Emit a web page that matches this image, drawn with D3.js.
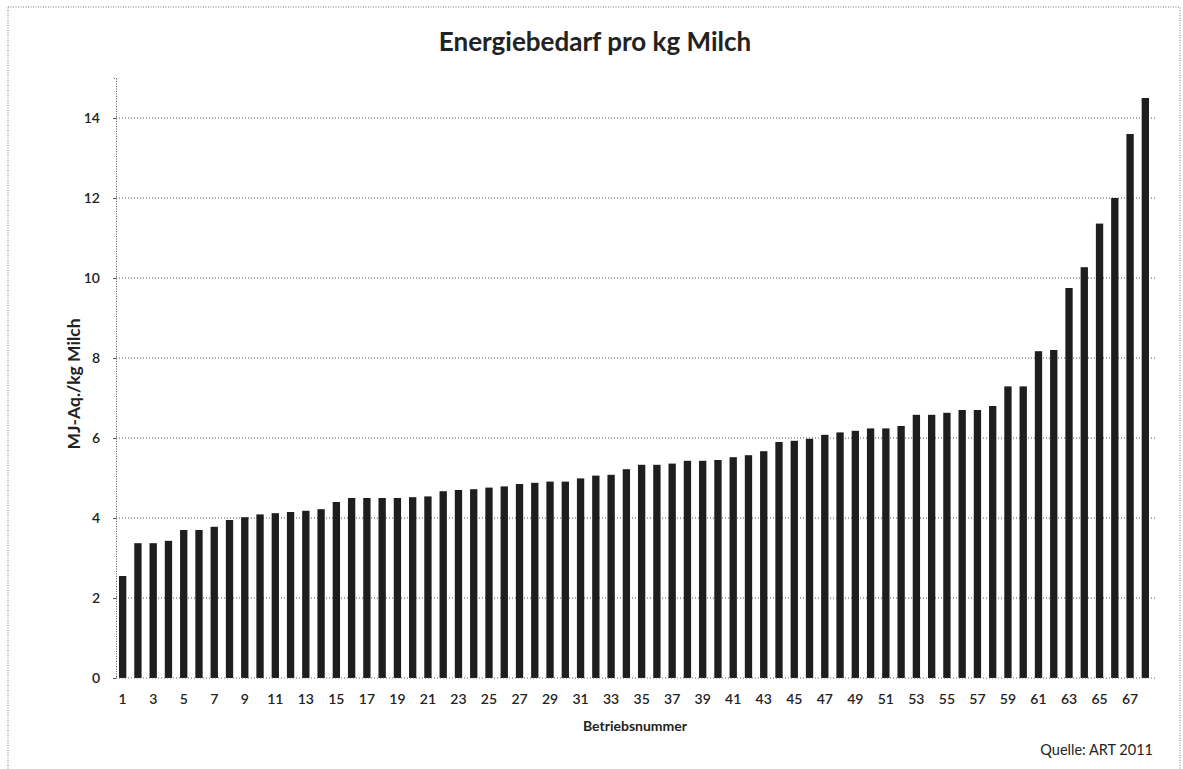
<html>
<head>
<meta charset="utf-8">
<title>Energiebedarf pro kg Milch</title>
<style>
  body { margin: 0; background: #fff; }
  svg text { font-family: Lato, "Open Sans", sans-serif; fill: #222; }
</style>
</head>
<body>
<div id="svghere"></div>
<script src="https://d3js.org/d3.v7.min.js"></script>
<script>
// Betriebsnummer 1..68
var betriebe = d3.range(1, 69);
// MJ-Aq. pro kg Milch
var energie = [
  2.55, 3.37, 3.37, 3.43, 3.70, 3.70, 3.78, 3.95, 4.02, 4.09,
  4.12, 4.15, 4.18, 4.22, 4.40, 4.50, 4.50, 4.50, 4.50, 4.52,
  4.54, 4.67, 4.70, 4.72, 4.76, 4.79, 4.85, 4.88, 4.91, 4.91,
  4.99, 5.06, 5.08, 5.22, 5.33, 5.33, 5.36, 5.43, 5.43, 5.45,
  5.52, 5.57, 5.67, 5.90, 5.93, 5.98, 6.08, 6.14, 6.18, 6.24,
  6.24, 6.30, 6.58, 6.58, 6.63, 6.70, 6.70, 6.80, 7.29, 7.29,
  8.17, 8.20, 9.75, 10.27, 11.36, 12.00, 13.60, 14.50
];
var yTicks = [0, 2, 4, 6, 8, 10, 12, 14];
var xLabels = betriebe.filter(function(d) { return d % 2 === 1; });

var svg = d3.select("#svghere")
    .append('svg')
    .attr('width', 1183)
    .attr('height', 769);

// outer dotted frame
svg.append('rect')
    .attr('x', 8).attr('y', 7)
    .attr('width', 1172).attr('height', 770)
    .attr('fill', 'none')
    .style('stroke', '#777')
    .style('stroke-width', 1)
    .style('stroke-dasharray', '1,1.5');

var plotLeft = 116, plotRight = 1157, plotTop = 78, plotBottom = 678;

var x = d3.scaleBand()
    .domain(betriebe)
    .range([119, 1149])
    .paddingInner(0.52)
    .paddingOuter(0);

var y = d3.scaleLinear()
    .domain([0, 15])
    .range([plotBottom, plotTop]);

// gridlines
svg.selectAll('line.grid')
    .data(yTicks.filter(function(d) { return d > 0; }))
    .enter()
    .append('line')
    .attr('class', 'grid')
    .attr('x1', plotLeft).attr('x2', plotRight)
    .attr('y1', function(d) { return y(d); })
    .attr('y2', function(d) { return y(d); })
    .style('stroke', '#555')
    .style('stroke-width', 1)
    .style('stroke-dasharray', '1,2');

// bars
svg.selectAll('rect.bar')
    .data(energie)
    .enter()
    .append('rect')
    .attr('class', 'bar')
    .attr('x', function(d, i) { return x(betriebe[i]); })
    .attr('width', x.bandwidth())
    .attr('y', function(d) { return y(d); })
    .attr('height', function(d) { return y(0) - y(d); })
    .attr('fill', '#1e1e1e');

// y axis
var yAxis = svg.append('g')
    .attr('transform', 'translate(' + plotLeft + ',0)')
    .call(d3.axisLeft(y).tickValues(yTicks).tickSize(3).tickPadding(13));
yAxis.select('.domain')
    .style('stroke', '#555')
    .style('stroke-dasharray', '1,1.5');
yAxis.selectAll('.tick line').style('stroke', '#555');
yAxis.selectAll('.tick text')
    .style('font-size', '14px')
    .style('font-weight', '600')
    .style('font-family', 'Lato, sans-serif')
    .attr('fill', '#333');

// x axis
var xAxis = svg.append('g')
    .attr('transform', 'translate(0,' + plotBottom + ')')
    .call(d3.axisBottom(x).tickValues(xLabels).tickSize(0).tickPadding(16));
xAxis.select('.domain')
    .attr('d', 'M' + plotLeft + ',0H' + plotRight)
    .style('stroke', '#666')
    .style('stroke-dasharray', '1,2');
xAxis.selectAll('.tick text')
    .style('font-size', '14px')
    .style('font-weight', '600')
    .style('font-family', 'Lato, sans-serif')
    .attr('fill', '#333');

// titles
svg.append('text')
    .attr('x', 595).attr('y', 51)
    .attr('text-anchor', 'middle')
    .style('font-size', '26px')
    .style('font-weight', 'bold')
    .text('Energiebedarf pro kg Milch');

svg.append('text')
    .attr('transform', 'translate(80,384) rotate(-90)')
    .attr('text-anchor', 'middle')
    .style('font-size', '17.5px')
    .style('font-weight', 'bold')
    .text('MJ-Aq./kg Milch');

svg.append('text')
    .attr('x', 635).attr('y', 731)
    .attr('text-anchor', 'middle')
    .style('font-size', '14px')
    .style('font-weight', 'bold')
    .text('Betriebsnummer');

svg.append('text')
    .attr('x', 1153).attr('y', 755)
    .attr('text-anchor', 'end')
    .style('font-size', '14.5px')
    .text('Quelle: ART 2011');
</script>
</body>
</html>
